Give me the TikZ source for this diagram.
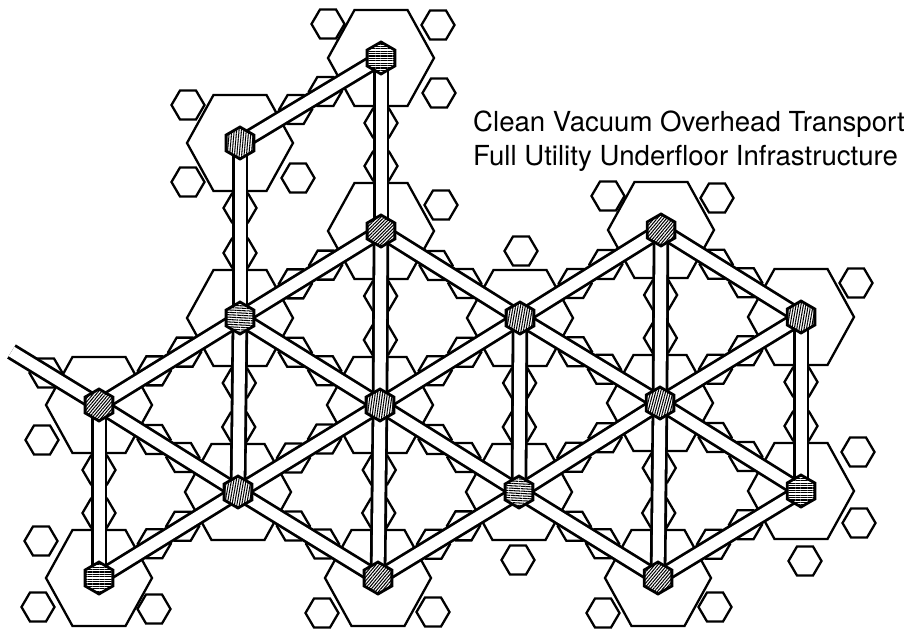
\documentclass[tikz,border=0pt]{standalone}
\usepackage{fontspec}
\setmainfont{TeX Gyre Heros}
\usetikzlibrary{shapes.geometric,patterns.meta,calc}
\pgfdeclarelayer{back}
\pgfdeclarelayer{bars}
\pgfsetlayers{back,bars,main}
\tikzset{
  outline/.style={draw=black,line width=2.3pt,line join=miter},
  hub/.style={regular polygon,regular polygon sides=6,shape border rotate=30,minimum size=32pt,inner sep=0pt,outer sep=0pt,draw=black,line width=2.8pt,preaction={fill=white},pattern={Lines[angle=#1,distance=2.4pt,line width=1.05pt]}},
  barline/.style={draw=black,line width=2.8pt,double=white,double distance=11pt,line cap=butt},
  caption/.style={anchor=base west,inner sep=0pt,font=\fontsize{27.6pt}{33pt}\selectfont}
}
\newcommand\smallhex[1]{\begin{pgfonlayer}{back}\draw[outline] (#1) ++(-16.5,0) -- ++(8.5,-14.5) -- ++(16,0) -- ++(8.5,14.5) -- ++(-8.5,14.5) -- ++(-16,0) -- cycle;\end{pgfonlayer}}
\newcommand\bighex[1]{\begin{pgfonlayer}{back}\draw[outline] (#1) ++(-53,0) -- ++(26.5,-48) -- ++(53,0) -- ++(26.5,48) -- ++(-26.5,48) -- ++(-53,0) -- cycle;\end{pgfonlayer}}
\newcommand\spoke[2]{%
  \smallhex{$(#1.center)!65pt!(#2.center)$}%
  \smallhex{$(#2.center)!65pt!(#1.center)$}%
  \begin{pgfonlayer}{bars}\draw[barline] (#1.center) -- (#2.center);\end{pgfonlayer}}
\begin{document}
\begin{tikzpicture}[x=1pt,y=-1pt]
\useasboundingbox (0,0) rectangle (913,632);
% hubs
\node[hub=0]  (A) at (381,58) {};
\node[hub=85] (B) at (240,143) {};
\node[hub=45] (C) at (381,231) {};
\node[hub=50] (D) at (661,230) {};
\node[hub=-3] (E) at (240,318) {};
\node[hub=80] (F) at (520,318) {};
\node[hub=80] (G) at (801,317) {};
\node[hub=50] (H) at (99,405) {};
\node[hub=82] (I) at (380,405) {};
\node[hub=75] (J) at (660,403) {};
\node[hub=80] (K) at (238,492) {};
\node[hub=-3] (L) at (519,492) {};
\node[hub=0]  (M) at (801,491) {};
\node[hub=0]  (N) at (99,578) {};
\node[hub=50] (O) at (378,578) {};
\node[hub=50] (P) at (658,578) {};
\coordinate (Z) at (11.5,351.5);
% large hexagons
\foreach \n in {A,...,P} {\bighex{\n.center}}
% connectors
\foreach \a/\b in {A/B,A/C,B/E,E/K,C/I,I/O,H/N,F/L,D/J,J/P,G/M,
  H/E,E/C,C/F,F/D,D/G,N/K,K/I,I/F,F/J,J/G,O/L,L/J,P/M,
  H/K,K/O,E/I,I/L,L/P,J/M} {\spoke{\a}{\b}}
\begin{pgfonlayer}{bars}\draw[barline] (H.center) -- (Z);\end{pgfonlayer}
\smallhex{46,373}
% free small hexagons
\foreach \p in {{328,24},{438,25},{439,93},{188,105},{188,182},{298,178},{441,205},
  {608,196},{717,198},{521,251},{856,283},{42,440},{41,541},{38,607},{154,609},
  {322,613},{433,612},{518,560},{603,613},{715,607},{858,452},{859,523},{805,561}} {\smallhex{\p}}
% text
\node[caption] (t1) at (473,131) {Clean Vacuum Overhead Transport};
\node[caption] (t2) at (473,165) {Full Utility Underfloor Infrastructure};
\end{tikzpicture}
\end{document}
